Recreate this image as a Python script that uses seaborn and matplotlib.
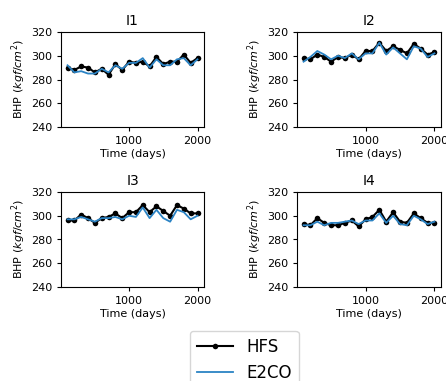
import matplotlib
matplotlib.use("Agg")
import matplotlib.pyplot as plt
import seaborn as sns
import pandas as pd
import numpy as np

days = [100, 200, 300, 400, 500, 600, 700, 800, 900, 1000,
        1100, 1200, 1300, 1400, 1500, 1600, 1700, 1800, 1900, 2000]

wells = ["I1", "I2", "I3", "I4"]

hfs_I1 = [290, 288, 291, 290, 286, 289, 284, 293, 288, 295, 294, 295, 291, 299, 293, 295, 295, 301, 294, 298]
e2co_I1 = [292, 286, 287, 285, 285, 289, 286, 292, 289, 294, 294, 298, 290, 297, 292, 292, 297, 298, 292, 297]

hfs_I2 = [298, 297, 301, 299, 295, 299, 298, 301, 297, 304, 304, 311, 304, 308, 305, 302, 310, 306, 301, 303]
e2co_I2 = [295, 299, 304, 301, 297, 300, 298, 302, 297, 302, 302, 311, 301, 307, 302, 297, 308, 306, 299, 302]

hfs_I3 = [296, 296, 301, 298, 294, 298, 299, 302, 298, 303, 303, 309, 303, 308, 304, 300, 309, 306, 302, 302]
e2co_I3 = [297, 297, 299, 297, 295, 298, 298, 299, 297, 300, 299, 307, 298, 305, 298, 295, 305, 303, 297, 300]

hfs_I4 = [293, 292, 298, 294, 292, 292, 294, 296, 291, 297, 299, 305, 295, 303, 295, 294, 302, 298, 294, 294]
e2co_I4 = [292, 292, 295, 292, 294, 294, 295, 296, 293, 296, 296, 302, 294, 300, 293, 292, 300, 297, 293, 295]

hfs = {"I1": hfs_I1, "I2": hfs_I2, "I3": hfs_I3, "I4": hfs_I4}
e2co = {"I1": e2co_I1, "I2": e2co_I2, "I3": e2co_I3, "I4": e2co_I4}

yticks = [240, 260, 280, 300, 320]
xticks = [1000, 2000]

fig = plt.figure(figsize=(4.46, 3.81), dpi=100)
W, H = 446, 381
boxes = {
    "I1": (61, 32, 204, 127),
    "I2": (297, 32, 441, 127),
    "I3": (61, 192, 204, 287),
    "I4": (297, 192, 441, 287),
}

handles = None
for w in wells:
    x0, y0, x1, y1 = boxes[w]
    ax = fig.add_axes([x0 / W, 1 - y1 / H, (x1 - x0) / W, (y1 - y0) / H])
    df = pd.DataFrame({"t": days, "hfs": hfs[w], "e2co": e2co[w]})
    sns.lineplot(data=df, x="t", y="hfs", ax=ax, color="black", marker="o",
                 markersize=4, markeredgewidth=0, linewidth=1.5, label="HFS")
    sns.lineplot(data=df, x="t", y="e2co", ax=ax, color="#2b83c4",
                 linewidth=1.3, label="E2CO")
    ax.set_ylim(240, 320)
    ax.set_yticks(yticks)
    ax.set_xticks(xticks)
    ax.tick_params(labelsize=8, length=3)
    ax.set_title(w, fontsize=10, pad=5)
    ax.set_xlabel("Time (days)", fontsize=8, labelpad=2)
    ax.set_ylabel("BHP ($kgf/cm^2$)", fontsize=8, labelpad=2)
    handles, labels = ax.get_legend_handles_labels()
    ax.get_legend().remove()

fig.legend(handles, labels, loc="upper center", bbox_to_anchor=(0.548, 1 - 331 / H),
           fontsize=12, frameon=True, handlelength=2.2, borderaxespad=0)
fig.savefig("out.png", dpi=100)
